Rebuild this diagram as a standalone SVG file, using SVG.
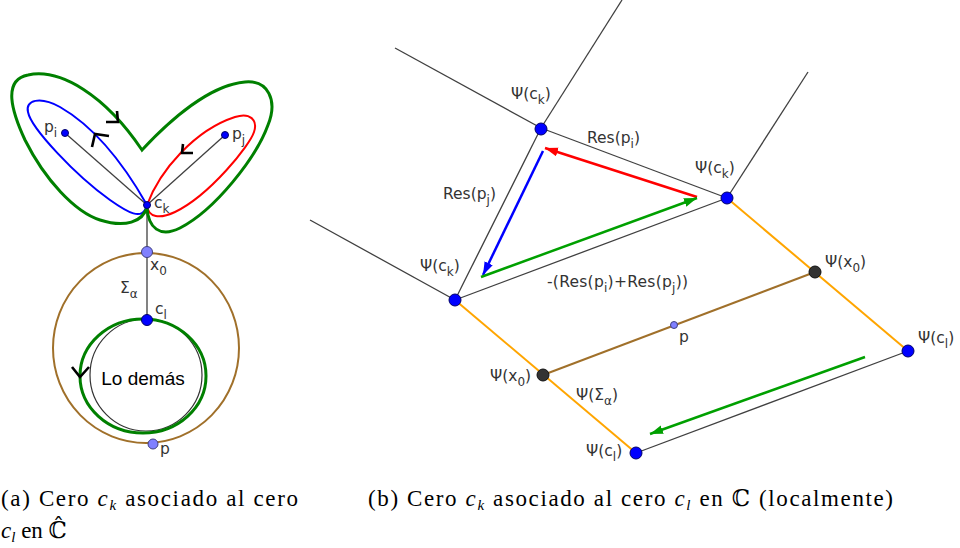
<svg xmlns="http://www.w3.org/2000/svg" width="960" height="548" viewBox="0 0 960 548">
<style>
.lbl{font-family:"DejaVu Sans","Liberation Sans",sans-serif;font-size:15.5px;fill:#333}
.sub{font-size:12px}
.cap{font-family:"Liberation Serif","DejaVu Serif",serif;font-size:23px;fill:#000}
.it{font-style:italic}
.gray{stroke:#404040;stroke-width:1.3;fill:none}
.org{stroke:#ffa500;stroke-width:2;fill:none}
.brn{stroke:#a0702a;stroke-width:2;fill:none}
.hook{stroke:#000;stroke-width:2.6;fill:none;stroke-linejoin:miter}
.bpt{fill:#0000ff;stroke:#00006a;stroke-width:1}
.lpt{fill:#8080ff;stroke:#404080;stroke-width:1}
.dpt{fill:#333;stroke:#111;stroke-width:1}
</style>
<defs>
<marker id="ahR" markerUnits="userSpaceOnUse" markerWidth="14" markerHeight="10" refX="13" refY="4.5" orient="auto"><path d="M0,0 L13,4.5 L0,9 z" fill="#ff0000"/></marker>
<marker id="ahB" markerUnits="userSpaceOnUse" markerWidth="14" markerHeight="10" refX="13" refY="4.5" orient="auto"><path d="M0,0 L13,4.5 L0,9 z" fill="#0000ff"/></marker>
<marker id="ahG" markerUnits="userSpaceOnUse" markerWidth="14" markerHeight="10" refX="13" refY="4.5" orient="auto"><path d="M0,0 L13,4.5 L0,9 z" fill="#00a000"/></marker>
</defs>
<rect width="960" height="548" fill="#fff"/>

<!-- ===== Left panel ===== -->
<g id="left-connectors">
<line class="gray" x1="147" y1="205" x2="65" y2="133"/>
<line class="gray" x1="147" y1="205" x2="225" y2="135"/>
<line class="gray" x1="147" y1="205" x2="147" y2="320"/>
</g>
<g id="brown-circle"><ellipse cx="146" cy="348" rx="93" ry="95" class="brn" stroke-width="1.6"/></g>
<g id="lo-demas">
<circle cx="146" cy="375" r="56" fill="none" stroke="#333" stroke-width="1.2"/>
<text x="143" y="385" text-anchor="middle" font-family="'Liberation Sans',sans-serif" font-size="19" fill="#000">Lo demás</text>
</g>
<g id="green-circle"><ellipse cx="143" cy="376" rx="63" ry="57" fill="none" stroke="#008000" stroke-width="3"/></g>
<g id="blue-loop"><path d="M147,205 C130,175 100,130 60,107 C40,96 25,100 28,112 C31,128 75,175 110,200 C127,212 143,222 147,205 Z" fill="none" stroke="#0000ff" stroke-width="2"/></g>
<g id="red-loop"><path d="M147,205 C160,170 195,130 235,117 C250,112 258,120 254,132 C250,145 210,195 175,212 C160,219 148,218 147,205 Z" fill="none" stroke="#ff0000" stroke-width="2"/></g>
<g id="green-loop"><path d="M147,207 C143,222 125,228 100,220 C75,212 45,180 25,140 C12,112 2,80 28,75 C60,68 105,95 142,150 C170,120 210,85 245,82 C268,80 278,100 268,125 C256,158 215,210 180,228 C160,238 148,228 147,207 Z" fill="none" stroke="#008000" stroke-width="3" stroke-linejoin="miter"/></g>
<g id="hooks">
<path class="hook" d="M106,122 L118,122 L117,111"/>
<path class="hook" d="M109,136 L95,134 L92,147"/>
<path class="hook" d="M183,144 L182,153 L193,153"/>
<path class="hook" d="M72,367 L80,377 L89,367"/>
</g>
<g id="pi"><circle cx="65" cy="133" r="3.5" class="bpt"/><text class="lbl" x="44" y="132">p<tspan class="sub" dy="5">i</tspan></text></g>
<g id="pj"><circle cx="225" cy="135" r="3.5" class="bpt"/><text class="lbl" x="232" y="139">p<tspan class="sub" dy="5">j</tspan></text></g>
<g id="ck"><circle cx="147" cy="205" r="3.5" class="bpt"/><text class="lbl" x="154" y="208">c<tspan class="sub" dy="5">k</tspan></text></g>
<g id="x0"><circle cx="147" cy="252" r="5.5" class="lpt"/><text class="lbl" x="150" y="270">x<tspan class="sub" dy="5">0</tspan></text></g>
<g id="sigma"><text class="lbl" x="120" y="293">Σ<tspan class="sub" dy="5">α</tspan></text></g>
<g id="cl"><circle cx="147" cy="320" r="5.5" class="bpt"/><text class="lbl" x="155" y="314">c<tspan class="sub" dy="5">l</tspan></text></g>
<g id="pleft"><circle cx="153" cy="444" r="5" class="lpt"/><text class="lbl" x="160" y="454">p</text></g>

<!-- ===== Right panel ===== -->
<g id="connectors">
<line class="gray" x1="395" y1="48" x2="541" y2="128"/>
<line class="gray" x1="541" y1="128" x2="622" y2="0"/>
<line class="gray" x1="541" y1="128" x2="455" y2="300"/>
<line class="gray" x1="541" y1="128" x2="727" y2="198"/>
<line class="gray" x1="727" y1="198" x2="808" y2="72"/>
<line class="gray" x1="455" y1="300" x2="310" y2="220"/>
<line class="gray" x1="455" y1="300" x2="727" y2="198"/>
<line class="gray" x1="636" y1="453" x2="908" y2="351"/>
<line class="org" x1="455" y1="300" x2="636" y2="453"/>
<line class="org" x1="727" y1="198" x2="908" y2="351"/>
<line class="brn" x1="543" y1="375" x2="815" y2="272"/>
<line x1="697" y1="197" x2="545" y2="148" stroke="#ff0000" stroke-width="2.5" marker-end="url(#ahR)"/>
<line x1="543" y1="151" x2="483" y2="275" stroke="#0000ff" stroke-width="2.5" marker-end="url(#ahB)"/>
<line x1="481" y1="277" x2="697" y2="198" stroke="#00a000" stroke-width="2.5" marker-end="url(#ahG)"/>
<line x1="865" y1="357" x2="650" y2="434" stroke="#00a000" stroke-width="2.5" marker-end="url(#ahG)"/>
</g>
<g id="psi-ck-top"><circle cx="541" cy="129" r="6" class="bpt"/><text class="lbl" x="511" y="99">Ψ(c<tspan class="sub" dy="5">k</tspan><tspan dy="-5">)</tspan></text></g>
<g id="psi-ck-right"><circle cx="727" cy="198" r="6" class="bpt"/><text class="lbl" x="695" y="173">Ψ(c<tspan class="sub" dy="5">k</tspan><tspan dy="-5">)</tspan></text></g>
<g id="psi-ck-left"><circle cx="455" cy="300" r="6" class="bpt"/><text class="lbl" x="420" y="271">Ψ(c<tspan class="sub" dy="5">k</tspan><tspan dy="-5">)</tspan></text></g>
<g id="psi-x0-right"><circle cx="815" cy="272" r="6" class="dpt"/><text class="lbl" x="825" y="267">Ψ(x<tspan class="sub" dy="5">0</tspan><tspan dy="-5">)</tspan></text></g>
<g id="psi-x0-left"><circle cx="543" cy="375" r="6" class="dpt"/><text class="lbl" x="490" y="381">Ψ(x<tspan class="sub" dy="5">0</tspan><tspan dy="-5">)</tspan></text></g>
<g id="psi-cl-right"><circle cx="908" cy="351" r="6" class="bpt"/><text class="lbl" x="918" y="343">Ψ(c<tspan class="sub" dy="5">l</tspan><tspan dy="-5">)</tspan></text></g>
<g id="psi-cl-bottom"><circle cx="636" cy="453" r="6" class="bpt"/><text class="lbl" x="586" y="456">Ψ(c<tspan class="sub" dy="5">l</tspan><tspan dy="-5">)</tspan></text></g>
<g id="p-right"><circle cx="674" cy="325" r="3.5" class="lpt"/><text class="lbl" x="679" y="342">p</text></g>
<g id="labels-right">
<text class="lbl" x="587" y="143">Res(p<tspan class="sub" dy="5">i</tspan><tspan dy="-5">)</tspan></text>
<text class="lbl" x="443" y="199">Res(p<tspan class="sub" dy="5">j</tspan><tspan dy="-5">)</tspan></text>
<text class="lbl" x="547" y="287" textLength="141">-(Res(p<tspan class="sub" dy="5">i</tspan><tspan dy="-5">)+Res(p</tspan><tspan class="sub" dy="5">j</tspan><tspan dy="-5">))</tspan></text>
<text class="lbl" x="576" y="400">Ψ(Σ<tspan class="sub" dy="5">α</tspan><tspan dy="-5">)</tspan></text>
</g>

<!-- ===== Captions ===== -->
<g id="captions">
<text class="cap" x="1" y="506" textLength="297" lengthAdjust="spacing">(a) Cero <tspan class="it">c</tspan><tspan class="it" font-size="15" dy="4">k</tspan><tspan dy="-4"> asociado al cero</tspan></text>
<text class="cap" x="1" y="538"><tspan class="it">c</tspan><tspan class="it" font-size="15" dy="4">l</tspan><tspan dy="-4"> en ℂ̂</tspan></text>
<text class="cap" x="368" y="506" textLength="525" lengthAdjust="spacing">(b) Cero <tspan class="it">c</tspan><tspan class="it" font-size="15" dy="4">k</tspan><tspan dy="-4"> asociado al cero </tspan><tspan class="it">c</tspan><tspan class="it" font-size="15" dy="4">l</tspan><tspan dy="-4"> en ℂ (localmente)</tspan></text>
</g>
</svg>
